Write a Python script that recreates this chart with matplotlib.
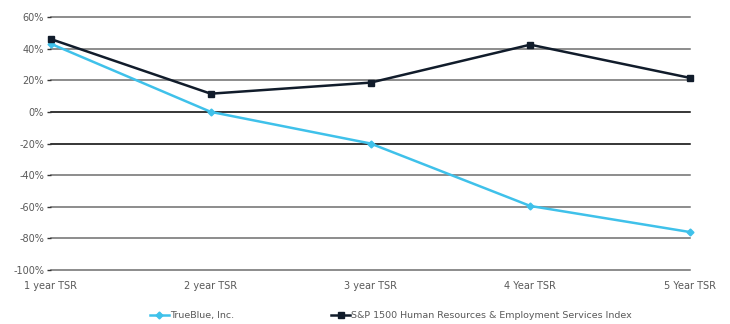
import matplotlib
matplotlib.use("Agg")
import matplotlib.pyplot as plt
from matplotlib.ticker import FuncFormatter

categories = ["1 year TSR", "2 year TSR", "3 year TSR", "4 Year TSR", "5 Year TSR"]
trueblue = [43, 0, -20, -59.5, -76]
sp1500 = [46, 11.5, 18.5, 42.5, 21.5]
yticks = [60, 40, 20, 0, -20, -40, -60, -80, -100]

fig = plt.figure(figsize=(7.3, 3.24), dpi=100)
ax = fig.add_axes([51/730, 1-270/324, (690-51)/730, (270-17)/324])
x = list(range(len(categories)))

for yv in yticks:
    ax.axhline(yv, color="#000000" if yv in (0, -20) else "#6e6e6e", lw=1.1, zorder=1, clip_on=False)

ax.plot(x, trueblue, color="#3fc1ea", lw=1.8, marker="D", ms=3.5, label="TrueBlue, Inc.", zorder=3, clip_on=False)
ax.plot(x, sp1500, color="#111c2b", lw=1.8, marker="s", ms=5, label="S&P 1500 Human Resources & Employment Services Index", zorder=4, clip_on=False)

ax.set_xlim(0, 4)
ax.set_ylim(-100, 60)
ax.set_yticks(yticks)
ax.yaxis.set_major_formatter(FuncFormatter(lambda v, p: f"{int(v)}%"))
ax.set_xticks(x)
ax.set_xticklabels(categories)
for s in ax.spines.values():
    s.set_visible(False)
ax.tick_params(axis="y", length=3, width=1, color="#333333", labelsize=7, labelcolor="#595959", pad=2)
ax.tick_params(axis="x", length=0, labelsize=7, labelcolor="#595959", pad=8)

leg = ax.legend(loc="upper center", bbox_to_anchor=(0.532, -0.13), ncol=2, frameon=False,
                fontsize=6.8, labelcolor="#595959", handlelength=2.0, handletextpad=0.1,
                columnspacing=10.3)
fig.savefig("out.png", dpi=100)
